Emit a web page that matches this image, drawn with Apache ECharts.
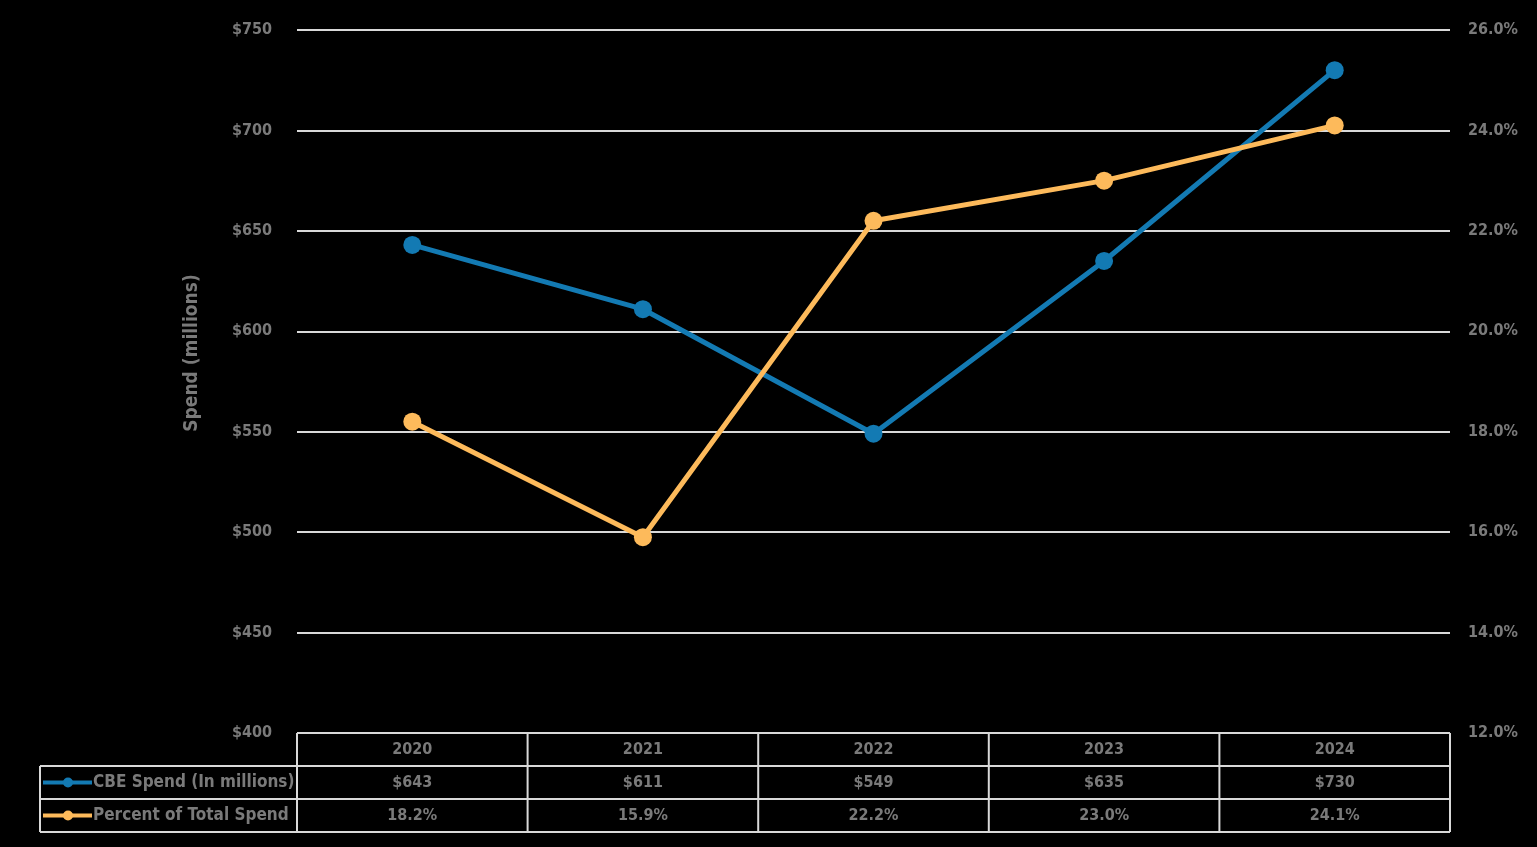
<!DOCTYPE html>
<html><head><meta charset="utf-8">
<script src="https://cdn.jsdelivr.net/npm/echarts@6/dist/echarts.min.js"></script>
<style>html,body{margin:0;padding:0;background:#000;}#c{width:1537px;height:847px;}</style>
</head><body><div id="c"></div>
<script>
var years = ['2020','2021','2022','2023','2024'];
var spend = [643, 611, 549, 635, 730];
var percent = [18.2, 15.9, 22.2, 23.0, 24.1];
var seriesNames = ['CBE Spend (In millions)', 'Percent of Total Spend'];
var yAxisTitle = 'Spend (millions)';

var BLUE = '#137ab3', ORANGE = '#fdba5b', TXT = '#7a7a7a', GRID = '#d9d9d9';
var FONT = "'DejaVu Sans Condensed','Liberation Sans Narrow','Roboto',sans-serif";

var chart = echarts.init(document.getElementById('c'));
chart.setOption({
  backgroundColor: '#000',
  animation: false,
  grid: {left: 297, right: 87, top: 30, bottom: 114},
  xAxis: {type: 'category', data: years, boundaryGap: true,
    axisLine: {show: false}, axisTick: {show: false}, axisLabel: {show: false}},
  yAxis: [
    {type: 'value', min: 400, max: 750, interval: 50,
     axisLine: {show: false}, axisTick: {show: false},
     axisLabel: {color: TXT, fontFamily: FONT, fontSize: 16, fontWeight: 'bold', margin: 25, formatter: function(v){return '$' + v;}},
     splitLine: {lineStyle: {color: GRID, width: 2}}},
    {type: 'value', min: 12, max: 26, interval: 2, position: 'right',
     axisLine: {show: false}, axisTick: {show: false},
     axisLabel: {color: TXT, fontFamily: FONT, fontSize: 16, fontWeight: 'bold', margin: 18, formatter: function(v){return v.toFixed(1) + '%';}},
     splitLine: {show: false}}
  ],
  series: [
    {name: seriesNames[0], type: 'line', data: spend, yAxisIndex: 0,
     symbol: 'circle', symbolSize: 18, lineStyle: {color: BLUE, width: 5}, itemStyle: {color: BLUE}, z: 3},
    {name: seriesNames[1], type: 'line', data: percent, yAxisIndex: 1,
     symbol: 'circle', symbolSize: 18, lineStyle: {color: ORANGE, width: 5}, itemStyle: {color: ORANGE}, z: 4}
  ]
});

function buildTable(){
  var xs = years.map(function(y){ return chart.convertToPixel({xAxisIndex:0}, y); });
  var half = (xs[1] - xs[0]) / 2;
  var top = chart.convertToPixel({yAxisIndex:0}, 400);
  var rowH = 33;
  var left = 40;
  var right = xs[xs.length-1] + half;
  var g = [];
  var ls = {stroke: GRID, lineWidth: 2};
  function line(x1,y1,x2,y2){ g.push({type:'line', shape:{x1:x1,y1:y1,x2:x2,y2:y2}, style: ls, silent:true}); }
  line(xs[0]-half, top, right, top);
  line(left, top+rowH, right, top+rowH);
  line(left, top+2*rowH, right, top+2*rowH);
  line(left, top+3*rowH, right, top+3*rowH);
  line(left, top+rowH, left, top+3*rowH);
  for (var i = 0; i <= xs.length; i++) {
    var bx = (i < xs.length ? xs[i] - half : right);
    line(bx, top, bx, top+3*rowH);
  }
  function txt(x, y, s, align, size){
    g.push({type:'text', x:x, y:y, style:{text:s, fill:TXT, font:'bold ' + (size||16) + 'px ' + FONT, textAlign:align||'center', textVerticalAlign:'middle'}, silent:true});
  }
  for (var j = 0; j < years.length; j++) {
    txt(xs[j], top + rowH/2, years[j]);
    txt(xs[j], top + rowH*1.5, '$' + spend[j]);
    txt(xs[j], top + rowH*2.5, percent[j].toFixed(1) + '%');
  }
  var colors = [BLUE, ORANGE];
  for (var k = 0; k < 2; k++) {
    var cy = top + rowH*(1.5 + k);
    g.push({type:'line', shape:{x1:left+3, y1:cy, x2:left+52, y2:cy}, style:{stroke:colors[k], lineWidth:4}, silent:true});
    g.push({type:'circle', shape:{cx:left+28, cy:cy, r:5}, style:{fill:colors[k]}, silent:true});
    txt(left+53, cy, seriesNames[k], 'left', 17);
  }
  g.push({type:'text', x:192, y:353, rotation:Math.PI/2,
    style:{text:yAxisTitle, fill:TXT, font:'bold 19px ' + FONT, textAlign:'center', textVerticalAlign:'middle'}, silent:true});
  chart.setOption({graphic: {elements: g}});
}
buildTable();
</script>
</body></html>
